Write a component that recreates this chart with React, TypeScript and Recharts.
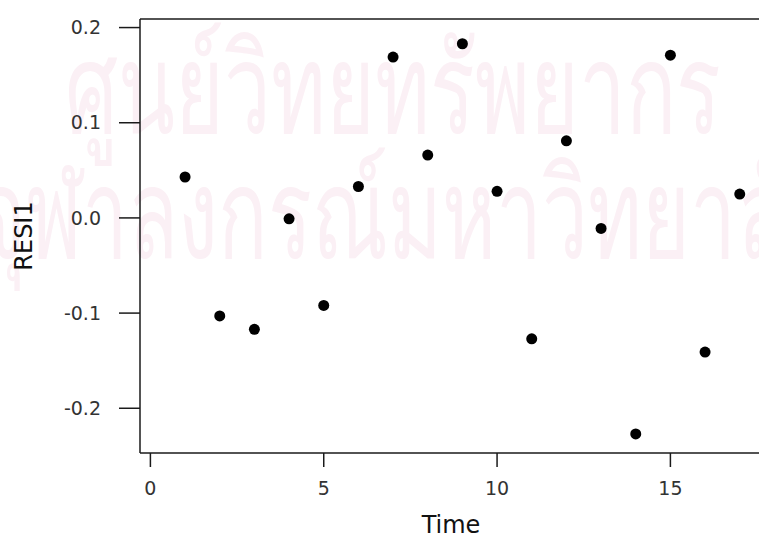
import { ScatterChart, Scatter, XAxis, YAxis, ReferenceLine } from "recharts";

// residuals RESI1 against time index
const timeIndex = [1, 2, 3, 4, 5, 6, 7, 8, 9, 10, 11, 12, 13, 14, 15, 16, 17];
const resi1 = [
  0.043, -0.103, -0.117, -0.001, -0.092, 0.033, 0.169, 0.066, 0.183, 0.028,
  -0.127, 0.081, -0.011, -0.227, 0.171, -0.141, 0.025,
];
const xTicks = [0, 5, 10, 15];
const yTicks = [-0.2, -0.1, 0.0, 0.1, 0.2];
const watermarkLines = ["ศูนย์วิทยทรัพยากร", "จุฬาลงกรณ์มหาวิทยาลัย"];

const X_DOMAIN: [number, number] = [-0.3, 17.7];
const Y_DOMAIN: [number, number] = [-0.247, 0.209];

const data = timeIndex.map((t, i) => ({ time: t, resi: resi1[i] }));

const FONT = "'DejaVu Sans', Verdana, sans-serif";
const INK = "#1a1a1a";

const markStyle = {
  position: "absolute" as const,
  fontSize: 126,
  lineHeight: "130px",
  color: "#fbf0f5",
  fontFamily: "sans-serif",
  whiteSpace: "nowrap" as const,
  transformOrigin: "left center",
};

export default function App() {
  return (
    <div
      style={{
        position: "fixed",
        left: 0,
        top: 0,
        width: 759,
        height: 536,
        overflow: "hidden",
        background: "#fff",
      }}
    >
      {/* faint pink scan watermark */}
      <div style={{ ...markStyle, left: 65, top: 25, transform: "scaleX(0.662)" }}>
        {watermarkLines[0]}
      </div>
      <div style={{ ...markStyle, left: -22, top: 150, transform: "scaleX(0.65)" }}>
        {watermarkLines[1]}
      </div>
      <div style={{ position: "absolute", left: 0, top: 0 }}>
        <ScatterChart
          width={780}
          height={536}
          margin={{ top: 19, right: 16, left: 0, bottom: 0 }}
        >
          <XAxis
            type="number"
            dataKey="time"
            domain={X_DOMAIN}
            ticks={xTicks}
            height={83}
            tickSize={14}
            tickMargin={15}
            axisLine={{ stroke: INK, strokeWidth: 1.5 }}
            tickLine={{ stroke: INK, strokeWidth: 1.5 }}
            tick={{ fill: "#333", fontSize: 19, fontFamily: FONT }}
            allowDataOverflow
            label={{
              value: "Time",
              position: "insideBottom",
              offset: 3,
              fill: "#111",
              fontSize: 24,
              fontFamily: FONT,
              dx: -1,
            }}
          />
          <YAxis
            type="number"
            dataKey="resi"
            domain={Y_DOMAIN}
            ticks={yTicks}
            width={140}
            tickSize={21}
            tickMargin={18}
            tickFormatter={(v: number) => v.toFixed(1)}
            axisLine={{ stroke: INK, strokeWidth: 1.5 }}
            tickLine={{ stroke: INK, strokeWidth: 1.5 }}
            tick={{ fill: "#333", fontSize: 19, fontFamily: FONT }}
            allowDataOverflow
            label={{
              value: "RESI1",
              angle: -90,
              position: "center",
              dx: -47,
              fill: "#111",
              fontSize: 24,
              fontFamily: FONT,
            }}
          />
          <ReferenceLine y={Y_DOMAIN[1]} stroke={INK} strokeWidth={1.5} />
          <Scatter
            data={data}
            isAnimationActive={false}
            shape={(p: any) => <circle cx={p.cx} cy={p.cy} r={5.5} fill="#000" />}
          />
        </ScatterChart>
      </div>
    </div>
  );
}
